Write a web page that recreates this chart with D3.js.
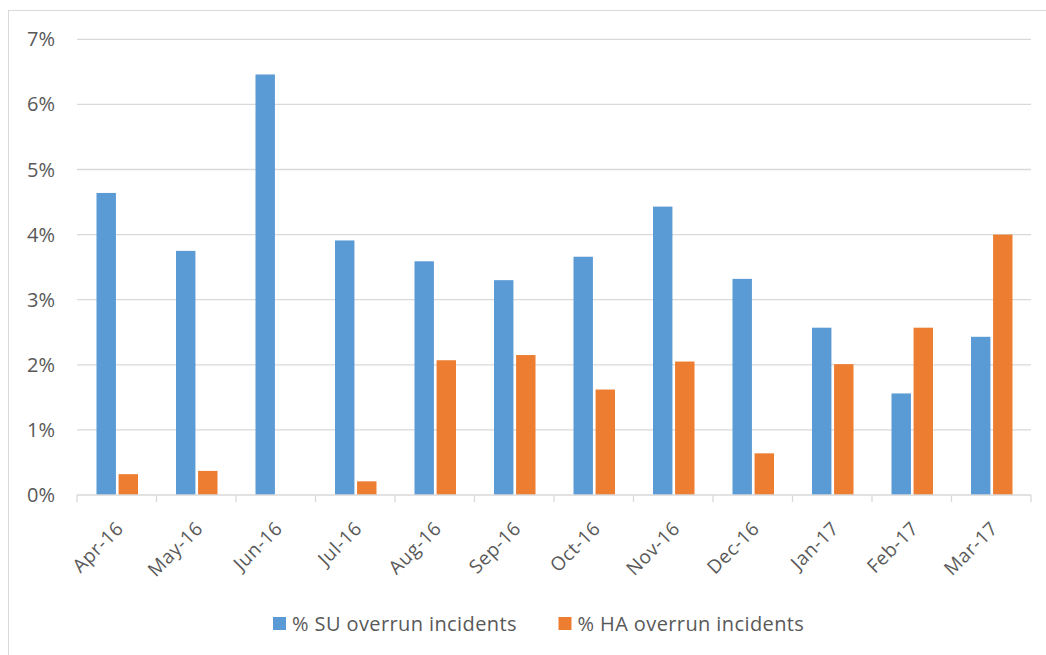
<!DOCTYPE html>
<html>
<head>
<meta charset="utf-8">
<script src="https://cdn.jsdelivr.net/npm/d3@7"></script>
<style>
  html, body { margin: 0; padding: 0; background: #fff; }
  svg { display: block; font-family: "Open Sans", "Liberation Sans", sans-serif; }
</style>
</head>
<body>
<svg id="chart" width="1046" height="655"></svg>
<script>
// Monthly overrun incident rates (percent)
const months = ["Apr-16","May-16","Jun-16","Jul-16","Aug-16","Sep-16","Oct-16","Nov-16","Dec-16","Jan-17","Feb-17","Mar-17"];
const suValues = [4.64, 3.75, 6.46, 3.91, 3.59, 3.30, 3.66, 4.43, 3.32, 2.57, 1.56, 2.43];
const haValues = [0.32, 0.37, 0, 0.21, 2.07, 2.15, 1.62, 2.05, 0.64, 2.01, 2.57, 4.00];
const yTicks = [0, 1, 2, 3, 4, 5, 6, 7];
const seriesNames = ["% SU overrun incidents", "% HA overrun incidents"];
const colors = ["#5b9bd5", "#ed7d31"];

const svg = d3.select("#chart");

// Outer frame
svg.append("rect")
  .attr("x", 8.5).attr("y", 10.5)
  .attr("width", 1046).attr("height", 660)
  .attr("fill", "none").attr("stroke", "#d9d9d9");

const plotLeft = 77, plotRight = 1031, plotTop = 39.3, plotBottom = 495;

const x = d3.scaleBand().domain(months).range([plotLeft, plotRight]).paddingInner(0).paddingOuter(0);
const y = d3.scaleLinear().domain([0, 7]).range([plotBottom, plotTop]);
const sub = d3.scaleBand().domain([0, 1]).range([19.5, 61]).paddingInner(0.12);

// Gridlines
svg.append("g")
  .selectAll("line")
  .data(yTicks.filter(d => d > 0))
  .join("line")
  .attr("x1", plotLeft).attr("x2", plotRight)
  .attr("y1", d => y(d)).attr("y2", d => y(d))
  .attr("stroke", "#d9d9d9").attr("stroke-width", 1.3);

// Y axis labels
svg.append("g")
  .selectAll("text")
  .data(yTicks)
  .join("text")
  .attr("x", 55)
  .attr("y", d => y(d))
  .attr("dy", "0.35em")
  .attr("text-anchor", "end")
  .attr("font-size", 20)
  .attr("fill", "#595959")
  .text(d => d + "%");

// Bars
const series = [suValues, haValues];
series.forEach((vals, si) => {
  svg.append("g")
    .selectAll("rect")
    .data(vals.map((v, i) => ({ m: months[i], v })))
    .join("rect")
    .attr("x", d => x(d.m) + sub(si))
    .attr("width", sub.bandwidth())
    .attr("y", d => y(d.v))
    .attr("height", d => y(0) - y(d.v))
    .attr("fill", colors[si]);
});

// X axis line and ticks
const xAxis = svg.append("g");
xAxis.append("line")
  .attr("x1", plotLeft).attr("x2", plotRight)
  .attr("y1", plotBottom).attr("y2", plotBottom)
  .attr("stroke", "#d9d9d9").attr("stroke-width", 1.3);
xAxis.selectAll("line.tick")
  .data(months.map(m => x(m)).concat([plotRight]))
  .join("line")
  .attr("class", "tick")
  .attr("x1", d => d).attr("x2", d => d)
  .attr("y1", plotBottom).attr("y2", plotBottom + 7)
  .attr("stroke", "#d9d9d9").attr("stroke-width", 1.3);

// Rotated month labels
xAxis.selectAll("text")
  .data(months)
  .join("text")
  .attr("transform", d => `translate(${x(d) + x.bandwidth() / 2 + 3},${plotBottom + 30}) rotate(-45)`)
  .attr("text-anchor", "end")
  .attr("dy", "0.35em")
  .attr("font-size", 19)
  .attr("letter-spacing", 0.5)
  .attr("fill", "#595959")
  .text(d => d);

// Legend
const legend = svg.append("g");
const legendItems = [{ x: 273, i: 0 }, { x: 558.5, i: 1 }];
legendItems.forEach(it => {
  legend.append("rect")
    .attr("x", it.x).attr("y", 617)
    .attr("width", 13).attr("height", 13)
    .attr("fill", colors[it.i]);
  legend.append("text")
    .attr("x", it.x + 19).attr("y", 624)
    .attr("dy", "0.35em")
    .attr("font-size", 20)
    .attr("letter-spacing", 0.4)
    .attr("fill", "#595959")
    .text(seriesNames[it.i]);
});
</script>
</body>
</html>
